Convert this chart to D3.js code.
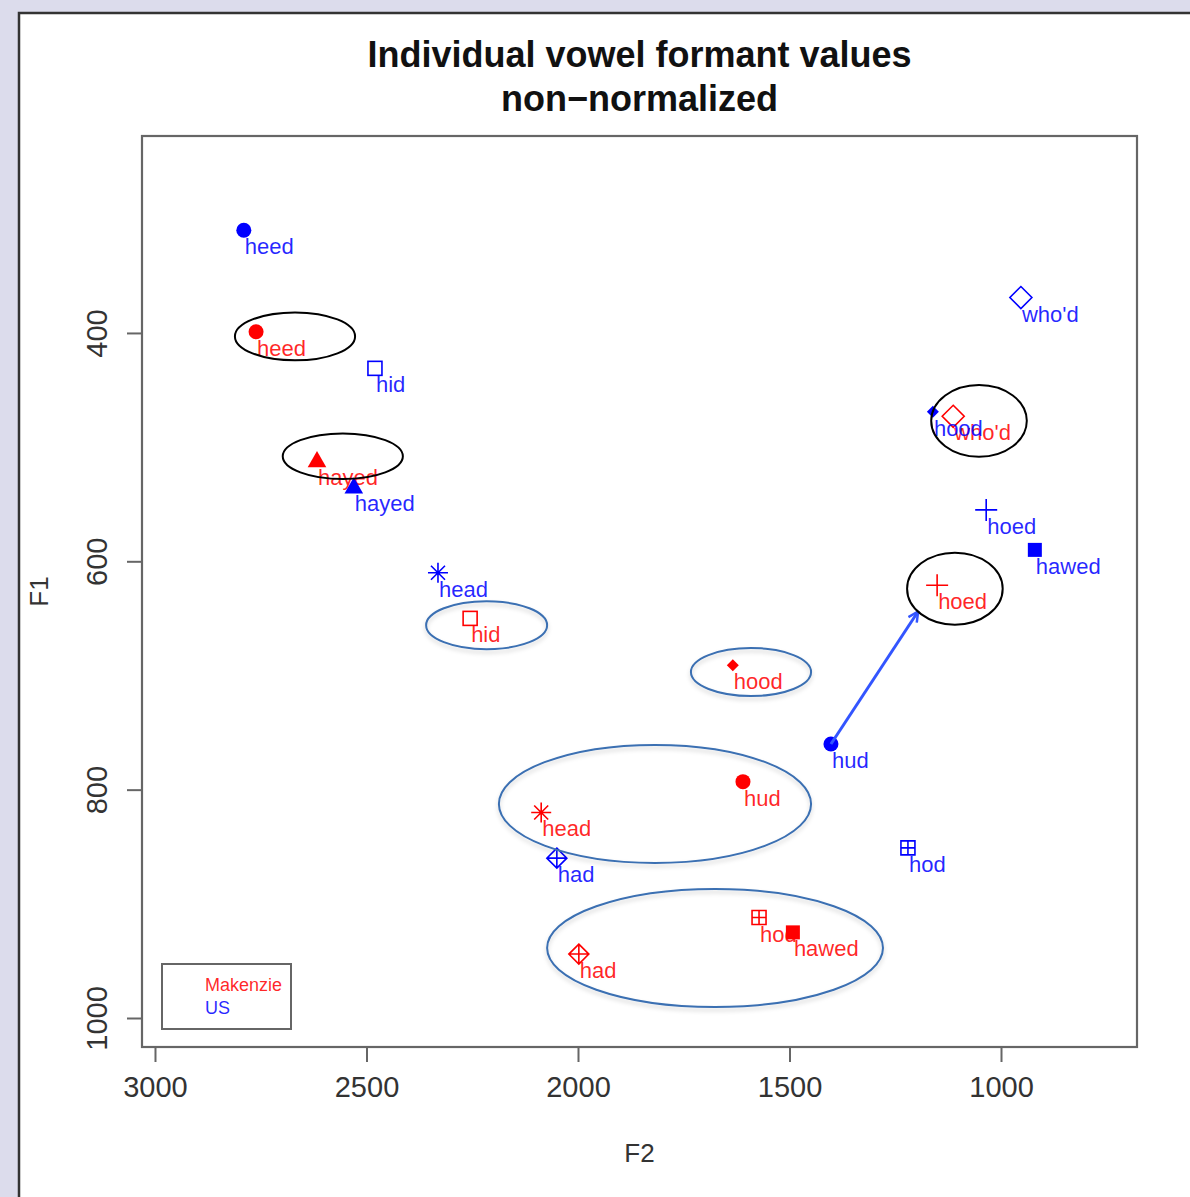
<!DOCTYPE html>
<html>
<head>
<meta charset="utf-8">
<script src="https://cdn.jsdelivr.net/npm/d3@7"></script>
<style>
  html, body { margin: 0; padding: 0; background: #dcdcec; }
  svg { display: block; }
  text { font-family: "Liberation Sans", Arial, Helvetica, sans-serif; }
</style>
</head>
<body>
<div id="chart"></div>
<script>
// Vowel categories (hVd words) and their plotting symbols
const vowels = ["heed", "hid", "hayed", "head", "had", "hud", "hod", "hawed", "hood", "hoed", "who'd"];
const symbols = ["dot", "openSquare", "triangle", "asterisk", "diamondPlus", "dot", "squarePlus", "square", "smallDiamond", "plus", "openDiamond"];

// Speaker 1: Makenzie (F2, F1 in Hz)
const makenzieF2 = [2761, 2255, 2617, 2087, 1998, 1610, 1572, 1492, 1634, 1151, 1113];
const makenzieF1 = [399, 650, 512, 820, 944, 793, 912, 925, 691, 621, 473];

// Speaker 2: US reference (F2, F1 in Hz)
const usF2 = [2790, 2480, 2530, 2331, 2050, 1402, 1220, 920, 1161, 1035, 953];
const usF1 = [310, 431, 535, 610, 860, 760, 851, 590, 469, 555, 369];

// Axis ticks
const xTicks = [3000, 2500, 2000, 1500, 1000];
const yTicks = [400, 600, 800, 1000];

// Arrow: US hud moving towards Makenzie's hoed region
const arrowFrom = [1402, 760];
const arrowTo = [1196, 644];

// Highlight ellipses: centre F2, centre F1, radius in F2 (Hz), radius in F1 (Hz)
const blackRings = [
  [2669, 403, 142, 21],
  [2556, 508, 142, 20],
  [1052, 477, 113, 31.5],
  [1109, 624, 113, 31.5]
];
const blueRings = [
  [2216, 656, 143, 21],
  [1591, 697, 142, 21],
  [1818, 812.5, 369, 51.7],
  [1676, 938.7, 397, 51.7]
];

const speakers = ["Makenzie", "US"];
const speakerColors = ["#ff0000", "#0000ff"];

const W = 1190, H = 1197;
const plot = { left: 142, right: 1137, top: 136, bottom: 1047 };

const svg = d3.select("#chart").append("svg")
  .attr("width", W).attr("height", H);

const defs = svg.append("defs");
const shadow = defs.append("filter").attr("id", "soft").attr("x", "-10%").attr("y", "-10%").attr("width", "120%").attr("height", "130%");
shadow.append("feDropShadow").attr("dx", 0).attr("dy", 3).attr("stdDeviation", 2)
  .attr("flood-color", "#000").attr("flood-opacity", 0.18);

defs.append("marker").attr("id", "arrowhead")
  .attr("viewBox", "0 0 12 12").attr("refX", 11).attr("refY", 6)
  .attr("markerWidth", 12).attr("markerHeight", 12).attr("markerUnits", "userSpaceOnUse")
  .attr("orient", "auto")
  .append("path").attr("d", "M1,1 L11,6 L1,11").attr("fill", "none")
  .attr("stroke", "#3355ff").attr("stroke-width", 2.5);

// Panel (white sheet with dark top/left edge)
svg.append("rect").attr("x", 19).attr("y", 13).attr("width", W - 19).attr("height", H - 13).attr("fill", "#fff");
svg.append("path").attr("d", `M19,${H} L19,13 L${W},13`).attr("fill", "none")
  .attr("stroke", "#333").attr("stroke-width", 2.5);

// Scales: F2 decreases to the right, F1 increases downward
const x = d3.scaleLinear().domain([3030.7, 678.5]).range([plot.left, plot.right]);
const y = d3.scaleLinear().domain([227.5, 1025.4]).range([plot.top, plot.bottom]);

// Title
const title = svg.append("text").attr("text-anchor", "middle")
  .attr("font-weight", "bold").attr("font-size", 36).attr("fill", "#111");
title.append("tspan").attr("x", (plot.left + plot.right) / 2).attr("y", 67).text("Individual vowel formant values");
title.append("tspan").attr("x", (plot.left + plot.right) / 2).attr("y", 111).text("non\u2212normalized");

// Axes
const axisColor = "#666";
const xAxis = svg.append("g").attr("transform", `translate(0,${plot.bottom})`)
  .call(d3.axisBottom(x).tickValues(xTicks).tickSize(15).tickPadding(14).tickFormat(d3.format("d")));
xAxis.select(".domain").remove();
xAxis.selectAll("line").attr("stroke", axisColor).attr("stroke-width", 2);
xAxis.selectAll("text").attr("font-size", 29).attr("fill", "#333")
  .attr("font-family", "'Liberation Sans', Arial, sans-serif");

const yAxis = svg.append("g").attr("transform", `translate(${plot.left},0)`)
  .call(d3.axisLeft(y).tickValues(yTicks).tickSize(15).tickFormat(d3.format("d")));
yAxis.select(".domain").remove();
yAxis.selectAll("line").attr("stroke", axisColor).attr("stroke-width", 2);
yAxis.selectAll("text")
  .attr("font-size", 29).attr("fill", "#333")
  .attr("font-family", "'Liberation Sans', Arial, sans-serif")
  .attr("text-anchor", "middle").attr("dy", null).attr("x", null)
  .attr("transform", "translate(-35,0) rotate(-90)");

// Box around plotting region
svg.append("rect").attr("x", plot.left).attr("y", plot.top)
  .attr("width", plot.right - plot.left).attr("height", plot.bottom - plot.top)
  .attr("fill", "none").attr("stroke", axisColor).attr("stroke-width", 2.2);

// Axis titles
svg.append("text").attr("x", (plot.left + plot.right) / 2).attr("y", 1162)
  .attr("text-anchor", "middle").attr("font-size", 26).attr("fill", "#333").text("F2");
svg.append("text").attr("transform", `translate(48,${(plot.top + plot.bottom) / 2}) rotate(-90)`)
  .attr("text-anchor", "middle").attr("font-size", 26).attr("fill", "#333").text("F1");

// Symbol drawing
function drawSymbol(g, kind, cx, cy, color) {
  const s = g.append("g").attr("transform", `translate(${cx},${cy})`);
  const sw = 1.6;
  switch (kind) {
    case "dot":
      s.append("circle").attr("r", 7.5).attr("fill", color);
      break;
    case "openSquare":
      s.append("rect").attr("x", -7).attr("y", -7).attr("width", 14).attr("height", 14)
        .attr("fill", "none").attr("stroke", color).attr("stroke-width", sw);
      break;
    case "triangle":
      s.append("path").attr("d", d3.symbol(d3.symbolTriangle, 150)()).attr("fill", color)
        .attr("transform", "translate(0,1)");
      break;
    case "asterisk":
      s.append("path").attr("d", "M-10,0H10M0,-10V10M-7,-7L7,7M-7,7L7,-7")
        .attr("stroke", color).attr("stroke-width", sw).attr("fill", "none");
      break;
    case "diamondPlus":
      s.append("path").attr("d", "M0,-10L10,0L0,10L-10,0Z M-10,0H10 M0,-10V10")
        .attr("stroke", color).attr("stroke-width", sw).attr("fill", "none");
      break;
    case "squarePlus":
      s.append("path").attr("d", "M-7,-7H7V7H-7Z M-7,0H7 M0,-7V7")
        .attr("stroke", color).attr("stroke-width", sw).attr("fill", "none");
      break;
    case "square":
      s.append("rect").attr("x", -7).attr("y", -7).attr("width", 14).attr("height", 14).attr("fill", color);
      break;
    case "smallDiamond":
      s.append("path").attr("d", "M0,-6L6,0L0,6L-6,0Z").attr("fill", color);
      break;
    case "plus":
      s.append("path").attr("d", "M-11,0H11M0,-11V11")
        .attr("stroke", color).attr("stroke-width", sw).attr("fill", "none");
      break;
    case "openDiamond":
      s.append("path").attr("d", "M0,-11L11,0L0,11L-11,0Z")
        .attr("stroke", color).attr("stroke-width", sw).attr("fill", "none");
      break;
  }
}

const series = [
  { f2: makenzieF2, f1: makenzieF1, color: speakerColors[0] },
  { f2: usF2, f1: usF1, color: speakerColors[1] }
];

series.forEach(sr => {
  const g = svg.append("g");
  vowels.forEach((v, i) => {
    const px = x(sr.f2[i]), py = y(sr.f1[i]);
    drawSymbol(g, symbols[i], px, py, sr.color);
    g.append("text").attr("x", px + 1).attr("y", py + 24)
      .attr("font-size", 22).attr("fill", sr.color).attr("fill-opacity", 0.85).text(v);
  });
});

// Arrow
svg.append("line")
  .attr("x1", x(arrowFrom[0])).attr("y1", y(arrowFrom[1]))
  .attr("x2", x(arrowTo[0])).attr("y2", y(arrowTo[1]))
  .attr("stroke", "#3355ff").attr("stroke-width", 3)
  .attr("marker-end", "url(#arrowhead)");

// Highlight rings
function ring(d) {
  const cx = x(d[0]), cy = y(d[1]);
  const rx = Math.abs(x(d[0] - d[2]) - cx), ry = Math.abs(y(d[1] + d[3]) - cy);
  return { cx, cy, rx, ry };
}
svg.append("g").selectAll("ellipse").data(blackRings.map(ring)).join("ellipse")
  .attr("cx", d => d.cx).attr("cy", d => d.cy).attr("rx", d => d.rx).attr("ry", d => d.ry)
  .attr("fill", "none").attr("stroke", "#000").attr("stroke-width", 2);
svg.append("g").attr("filter", "url(#soft)").selectAll("ellipse").data(blueRings.map(ring)).join("ellipse")
  .attr("cx", d => d.cx).attr("cy", d => d.cy).attr("rx", d => d.rx).attr("ry", d => d.ry)
  .attr("fill", "none").attr("stroke", "#3b6fb2").attr("stroke-width", 2);

// Legend
const legend = svg.append("g");
legend.append("rect").attr("x", 162).attr("y", 964).attr("width", 129).attr("height", 65)
  .attr("fill", "#fff").attr("stroke", axisColor).attr("stroke-width", 2);
speakers.forEach((name, i) => {
  legend.append("text").attr("x", 205).attr("y", 991 + i * 23)
    .attr("font-size", 18).attr("fill", speakerColors[i]).attr("fill-opacity", 0.85).text(name);
});
</script>
</body>
</html>
